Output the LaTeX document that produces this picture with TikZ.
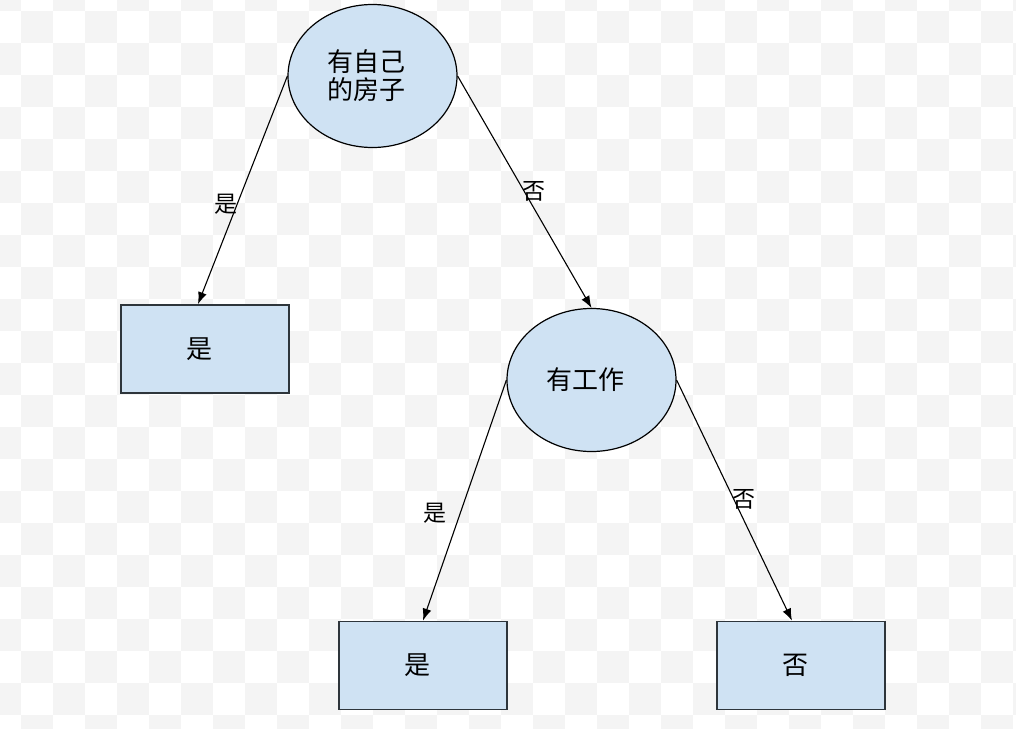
\documentclass[tikz,border=0pt]{standalone}
\usepackage{fontspec}
\newfontfamily\cjk{Noto Sans CJK SC}
\usetikzlibrary{shapes.geometric,arrows.meta}
\definecolor{boxfill}{HTML}{CFE2F3}
\definecolor{boxline}{HTML}{2E353B}
\definecolor{checker}{HTML}{F4F4F4}
\newcommand{\txtnudge}{\hspace*{-12pt}}
\tikzset{
  question/.style={ellipse, draw=black, line width=1.2pt, fill=boxfill, inner sep=0pt,
    minimum width=169pt, minimum height=143pt, align=center,
    font=\cjk\fontsize{26}{28}\selectfont},
  answer/.style={rectangle, draw=boxline, line width=1.8pt, fill=boxfill, inner sep=0pt,
    minimum width=168pt, minimum height=88pt, font=\cjk\fontsize{26}{28}\selectfont},
  branch/.style={draw=black, line width=1.1pt, -{Latex[length=12pt,width=9pt]}},
  edgelabel/.style={inner sep=0pt, font=\cjk\fontsize{23}{26}\selectfont}
}
\begin{document}
\begin{tikzpicture}[x=1pt,y=-1pt]
\useasboundingbox (0,0) rectangle (1016,728);
\begin{scope}
\clip (0,0) rectangle (1016,728);
\fill[white] (0,0) rectangle (1016,728);
\foreach \i in {-1,...,31} {
  \foreach \j in {-1,...,22} {
    \pgfmathtruncatemacro\p{mod(\i+\j+100,2)}
    \ifnum\p=0
      \fill[checker] ({21+32*\i},{11+32*\j}) rectangle +(32,32);
    \fi
  }
}
\end{scope}

\node[question] (q1) at (372.5,76) {\txtnudge 有自己\\\txtnudge 的房子};
\node[question] (q2) at (591.5,380) {\txtnudge 有工作};
\node[answer] (a1) at (205,349) {\txtnudge 是};
\node[answer] (a2) at (423,665.5) {\txtnudge 是};
\node[answer] (a3) at (801,665.5) {\txtnudge 否};

\draw[branch] (q1.west) -- ([xshift=-7pt]a1.north);
\draw[branch] (q1.east) -- (q2.north);
\draw[branch] (q2.west) -- (a2.north);
\draw[branch] (q2.east) -- ([xshift=-9pt]a3.north);

\node[edgelabel] (l1) at (226,204) {是};
\node[edgelabel] (l2) at (534,191) {否};
\node[edgelabel] (l3) at (434.5,513) {是};
\node[edgelabel] (l4) at (744,499) {否};
\end{tikzpicture}
\end{document}
